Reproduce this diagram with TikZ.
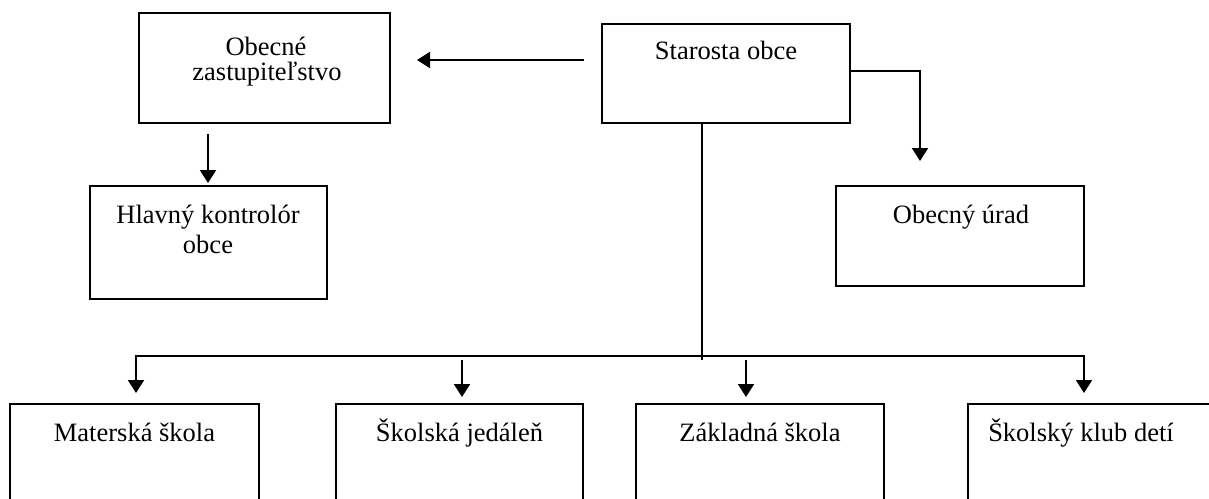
\documentclass[tikz,border=0pt]{standalone}
\usepackage{fontspec}
\setmainfont{Liberation Serif}
\usetikzlibrary{arrows.meta}
\begin{document}
\begin{tikzpicture}[x=0.5pt,y=-0.5pt,
  box/.style={draw=black,line width=1.2pt,inner sep=0pt,outer sep=0pt,fill=none},
  txt/.style={anchor=base,inner sep=0pt,font=\fontsize{13.25}{13}\selectfont},
  arr/.style={line width=1pt,-{Triangle[width=8pt,length=6.5pt]}},
  conn/.style={line width=1pt}]
\useasboundingbox (0,0) rectangle (1209,498);
\fill[white] (0,0) rectangle (1209,498);
% boxes
\node[box,minimum width=125.5pt,minimum height=55pt] (obz) at (264.5,68) {};
\node[box,minimum width=124pt,minimum height=49.5pt] (star) at (726,73.5) {};
\node[box,minimum width=118.5pt,minimum height=56.5pt] (hk) at (208.5,242.5) {};
\node[box,minimum width=124pt,minimum height=50pt] (ou) at (960,236) {};
\node[box,minimum width=124.5pt,minimum height=58pt] (mat) at (134.5,462) {};
\node[box,minimum width=123.5pt,minimum height=58pt] (jed) at (459.5,462) {};
\node[box,minimum width=124pt,minimum height=58pt] (zak) at (760,462) {};
\node[box,minimum width=126pt,minimum height=58pt] (klub) at (1094,462) {};
% texts
\node[txt] (t1a) at (266,55) {Obecné};
\node[txt] (t1b) at (267,80) {zastupiteľstvo};
\node[txt] (t2) at (726,59) {Starosta obce};
\node[txt] (t3a) at (208,223) {Hlavný kontrolór};
\node[txt] (t3b) at (208,253) {obce};
\node[txt] (t4) at (961,223) {Obecný úrad};
\node[txt] (t5) at (134.5,441) {Materská škola};
\node[txt] (t6) at (459.5,441) {Školská jedáleň};
\node[txt] (t7) at (760,441) {Základná škola};
\node[txt] (t8) at (1081,441) {Školský klub detí};
% connector coordinates
\coordinate (a1s) at (584,60);
\coordinate (a1e) at (417,60);
\coordinate (a2s) at (208,134);
\coordinate (c3) at (920,71);
\coordinate (c4) at (920,161);
\coordinate (v1) at (702,360);
\coordinate (hr) at (1084,356);
\coordinate (z1) at (746,360);
\coordinate (j1) at (462,360);
% connectors
\draw[arr] (a1s) -- (a1e);
\draw[arr,shorten >=1.5pt] (a2s) -- (a2s |- hk.north);
\draw[arr] (c3 -| star.east) -- (c3) -- (c4);
\draw[conn] (v1 |- star.south) -- (v1);
\draw[line width=1pt,{Triangle[width=8pt,length=6.5pt]}-{Triangle[width=8pt,length=6.5pt]},shorten <=5.5pt,shorten >=5.5pt]
  ([xshift=0.75pt]mat.north) |- (hr) -- (hr |- klub.north);
\draw[arr,shorten >=3.5pt] (j1) -- (j1 |- jed.north);
\draw[arr,shorten >=3.5pt] (z1) -- (z1 |- zak.north);
\end{tikzpicture}
\end{document}
